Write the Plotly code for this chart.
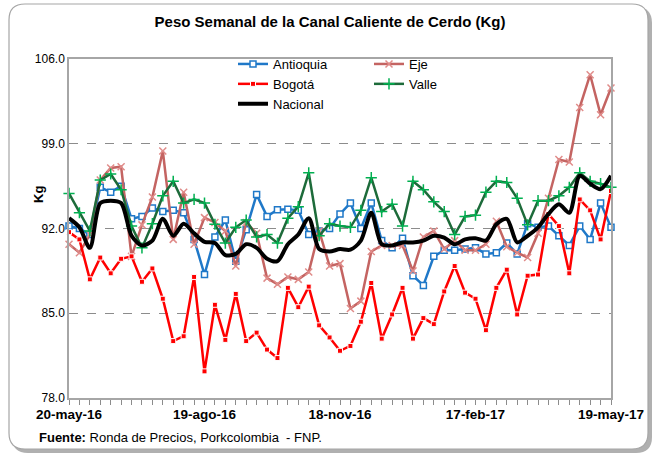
import pandas as pd
import plotly.graph_objects as go

# ---------------- data ----------------
weeks = pd.date_range("2016-05-20", periods=53, freq="7D")
tick_dates = ["2016-05-20", "2016-08-19", "2016-11-18", "2017-02-17", "2017-05-19"]
tick_labels = ["20-may-16", "19-ago-16", "18-nov-16", "17-feb-17", "19-may-17"]

antioquia = [92.2, 92.0, 91.5, 95.4, 95.0, 95.5, 92.8, 93.0, 93.7, 93.4, 93.5, 93.3, 91.1, 88.2,
             91.3, 92.7, 89.3, 91.9, 94.8, 93.0, 93.55, 93.6, 93.5, 91.5, 91.8, 92.0, 93.2, 94.1,
             92.0, 94.1, 91.0, 90.4, 91.2, 88.1, 87.3, 89.7, 90.2, 90.2, 90.3, 90.4, 89.9, 90.0,
             90.8, 89.9, 92.4, 92.1, 92.2, 91.4, 90.6, 92.2, 91.1, 94.1, 92.1]
eje = [90.7, 90.0, 91.5, 96.0, 97.0, 97.1, 89.7, 92.3, 94.6, 98.4, 91.1, 95.0, 90.7, 92.9,
       92.5, 91.8, 88.9, 92.5, 91.6, 87.9, 87.4, 88.0, 87.8, 88.4, 91.8, 88.9, 89.1, 85.4,
       86.0, 90.1, 90.6, 90.6, 90.6, 88.5, 91.3, 91.8, 90.3, 91.0, 90.2, 90.2, 90.7, 92.6,
       90.5, 90.0, 89.6, 91.6, 94.5, 97.7, 97.5, 102.0, 104.7, 101.4, 103.6]
bogota = [91.7, 91.1, 87.8, 89.6, 88.3, 89.5, 89.7, 87.6, 88.7, 86.2, 82.7, 83.1, 88.0, 80.2,
          85.7, 82.8, 86.6, 82.7, 83.4, 82.0, 81.3, 87.1, 85.5, 87.2, 84.0, 83.0, 81.9, 82.3,
          84.3, 87.5, 82.9, 84.9, 87.1, 82.9, 84.6, 84.1, 86.8, 88.9, 86.7, 86.2, 83.6, 87.1,
          88.6, 84.9, 88.1, 88.2, 93.2, 92.2, 88.3, 94.4, 93.5, 91.1, 95.1]
valle = [94.9, 93.3, 91.8, 96.0, 96.5, 95.2, 92.2, 90.4, 92.4, 94.7, 95.9, 94.1, 94.4, 94.1,
         92.35, 90.8, 92.1, 92.7, 91.3, 91.5, 90.8, 92.85, 93.8, 96.6, 91.4, 92.4, 92.2, 92.1,
         93.5, 96.2, 93.4, 94.0, 92.2, 95.9, 95.2, 94.2, 93.4, 91.5, 93.0, 93.1, 95.0, 95.9,
         95.8, 94.5, 92.3, 94.3, 94.3, 94.7, 95.4, 96.6, 95.9, 95.7, 95.4]
nacional = [92.85, 92.1, 90.4, 94.1, 94.3, 94.1, 91.4, 90.6, 91.0, 92.8, 91.4, 92.4, 91.6, 90.9,
            90.8, 89.8, 89.9, 90.7, 90.4, 89.5, 89.3, 90.7, 91.5, 92.85, 90.3, 90.1, 90.3, 90.25,
            91.0, 93.3, 90.7, 90.6, 90.85, 90.85, 91.0, 91.4, 91.25, 90.7, 91.1, 91.2, 91.0, 92.35,
            92.8, 90.85, 91.4, 92.1, 93.2, 94.0, 93.3, 96.35, 95.7, 95.25, 96.35]

FONT = "Liberation Sans"

# plot-area geometry in pixels (for decorations only)
W, H = 660, 457
L, R, T, B = 69, 611, 59, 398


def px(x):
    return (x - L) / (R - L)


def py(y):
    return (B - y) / (B - T)


fig = go.Figure()

fig.add_trace(go.Scatter(
    x=weeks, y=antioquia, name="Antioquia", mode="lines+markers", legend="legend",
    line=dict(color="#1F78C8", width=2.5),
    marker=dict(symbol="square", size=6, color="white", line=dict(color="#1F78C8", width=1.5)),
    cliponaxis=False))
fig.add_trace(go.Scatter(
    x=weeks, y=eje, name="Eje", mode="lines+markers", legend="legend2",
    line=dict(color="#C46462", width=2.5),
    marker=dict(symbol="x-thin", size=7, color="#E08C8A", line=dict(color="#E08C8A", width=1.5)),
    cliponaxis=False))
fig.add_trace(go.Scatter(
    x=weeks, y=bogota, name="Bogotá", mode="lines+markers", legend="legend",
    line=dict(color="#FF0000", width=2.5),
    marker=dict(symbol="square", size=5, color="#FF0000", line=dict(color="white", width=1)),
    cliponaxis=False))
fig.add_trace(go.Scatter(
    x=weeks, y=valle, name="Valle", mode="lines+markers", legend="legend2",
    line=dict(color="#1D6B3A", width=2.5),
    marker=dict(symbol="cross-thin", size=8, color="#00B050", line=dict(color="#00B050", width=1.5)),
    cliponaxis=False))
fig.add_trace(go.Scatter(
    x=weeks, y=nacional, name="Nacional", mode="lines", legend="legend",
    line=dict(color="black", width=4, shape="spline", smoothing=0.8)))


# outer rounded frame with shadow
def rounded(x0, y0, x1, y1, r):
    pts = [
        f"M {px(x0 + r)} {py(y0)}",
        f"L {px(x1 - r)} {py(y0)}",
        f"Q {px(x1)} {py(y0)} {px(x1)} {py(y0 + r)}",
        f"L {px(x1)} {py(y1 - r)}",
        f"Q {px(x1)} {py(y1)} {px(x1 - r)} {py(y1)}",
        f"L {px(x0 + r)} {py(y1)}",
        f"Q {px(x0)} {py(y1)} {px(x0)} {py(y1 - r)}",
        f"L {px(x0)} {py(y0 + r)}",
        f"Q {px(x0)} {py(y0)} {px(x0 + r)} {py(y0)}",
        "Z",
    ]
    return " ".join(pts)


fig.add_shape(type="path", xref="paper", yref="paper", path=rounded(12, 7, 652, 453, 16),
              fillcolor="#B0B0B0", line=dict(width=0), layer="below")
fig.add_shape(type="path", xref="paper", yref="paper", path=rounded(9, 4, 648, 449, 16),
              fillcolor="white", line=dict(color="#A6A6A6", width=1.2), layer="below")

fig.add_annotation(xref="paper", yref="paper", x=px(37), y=py(437), xanchor="left", yanchor="middle",
                   text="<b>Fuente:</b> Ronda de Precios, Porkcolombia  - FNP.", showarrow=False,
                   font=dict(family=FONT, size=13, color="black"))
fig.add_annotation(xref="paper", yref="paper", x=px(38), y=py(195), xanchor="center", yanchor="middle",
                   text="<b>Kg</b>", textangle=-90, showarrow=False,
                   font=dict(family=FONT, size=13, color="black"))

fig.update_layout(
    width=W, height=H,
    margin=dict(l=L, r=W - R, t=T, b=H - B),
    paper_bgcolor="white", plot_bgcolor="white",
    font=dict(family=FONT, color="black"),
    title=dict(text="<b>Peso Semanal de la Canal Caliente de Cerdo (Kg)</b>",
               x=0.5, xref="container", xanchor="center",
               y=1 - 22 / H, yref="container", yanchor="middle",
               font=dict(family=FONT, size=15, color="black")),
    legend=dict(x=px(233), y=py(49), xanchor="left", yanchor="top", bgcolor="rgba(0,0,0,0)",
                font=dict(family=FONT, size=13), tracegroupgap=0, itemwidth=30),
    legend2=dict(x=px(369), y=py(49), xanchor="left", yanchor="top", bgcolor="rgba(0,0,0,0)",
                 font=dict(family=FONT, size=13), tracegroupgap=0, itemwidth=30),
    xaxis=dict(
        range=[weeks[0], weeks[-1]],
        tickvals=pd.to_datetime(tick_dates), ticktext=tick_labels,
        tickfont=dict(family=FONT, size=13.5, color="black", weight="bold"),
        ticks="outside", ticklen=3, tickcolor="#8C8C8C",
        minor=dict(dtick=7 * 86400000, tick0="2016-05-20", ticks="outside", ticklen=5,
                   tickcolor="#8C8C8C", showgrid=False),
        showgrid=False, showline=True, linecolor="#A6A6A6", linewidth=1.5, mirror=True,
        zeroline=False),
    yaxis=dict(
        range=[78, 106], tickvals=[78, 85, 92, 99, 106], tickformat=".1f",
        tickfont=dict(family=FONT, size=12, color="black"),
        showgrid=True, gridcolor="#8C8C8C", griddash="dash", gridwidth=1,
        showline=True, linecolor="#A6A6A6", linewidth=1.5, mirror=True, zeroline=False,
        ticks=""),
)

fig.write_html("out.html", config={"displayModeBar": False},
               post_script="document.body.style.margin='0px';")
